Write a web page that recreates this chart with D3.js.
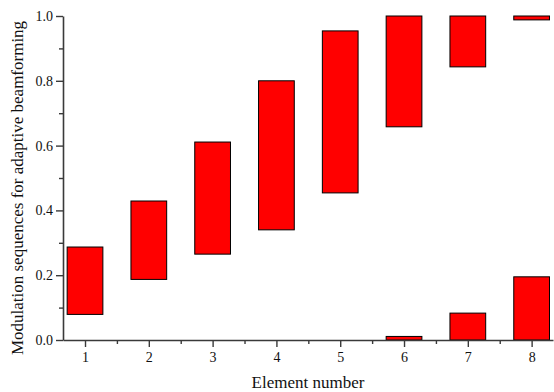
<!DOCTYPE html>
<html>
<head>
<meta charset="utf-8">
<script src="https://cdn.jsdelivr.net/npm/d3@7"></script>
<style>
  body { margin: 0; background: #fff; }
  svg { display: block; }
  svg text { font-family: "Liberation Serif", "Times New Roman", serif; }
</style>
</head>
<body>
<svg id="chart" width="554" height="392"></svg>
<script>
// element index -> [low, high] of each modulation window
const elements = [1, 2, 3, 4, 5, 6, 7, 8];
const lowVals  = [0.079, 0.187, 0.265, 0.340, 0.454, 0.658, 0.843, 0.988];
const highVals = [0.287, 0.429, 0.611, 0.800, 0.954, 1.000, 1.000, 1.000];
// wrapped-around part (values past 1.0 re-enter at 0)
const wrapElements = [6, 7, 8];
const wrapHigh     = [0.011, 0.083, 0.195];

const yTicks = [0, 0.2, 0.4, 0.6, 0.8, 1.0];

const margin = { top: 16, right: 1, bottom: 52, left: 63 };
const W = 554, H = 392;
const svg = d3.select("#chart");

const x = d3.scaleLinear().domain([0.655, 8.335]).range([margin.left, W - margin.right]);
const y = d3.scaleLinear().domain([0, 1]).range([H - margin.bottom, margin.top]);
const halfW = 0.28;

const font = '"Liberation Serif", "Times New Roman", serif';
const axisColor = "#3a3a3a";

const bars = elements.map((e, i) => ({ e, lo: lowVals[i], hi: highVals[i] }))
  .concat(wrapElements.map((e, i) => ({ e, lo: 0, hi: wrapHigh[i] })));

svg.append("g").selectAll("rect")
  .data(bars)
  .enter().append("rect")
    .attr("x", d => x(d.e - halfW))
    .attr("width", d => x(d.e + halfW) - x(d.e - halfW))
    .attr("y", d => y(d.hi))
    .attr("height", d => y(d.lo) - y(d.hi))
    .attr("fill", "#ff0000")
    .attr("stroke", "#000")
    .attr("stroke-width", 1);

function axisStyling(g) {
  g.attr("font-family", null);
  g.select(".domain").attr("stroke", axisColor).attr("stroke-width", 1.6);
  g.selectAll("line").attr("stroke", axisColor).attr("stroke-width", 1.4);
  g.selectAll("text").attr("fill", "#111").style("font-family", font).style("font-size", "14px");
}

// y minor ticks
svg.append("g")
  .attr("transform", `translate(${margin.left},0)`)
  .call(d3.axisLeft(y).tickValues(d3.range(0.1, 1, 0.2)).tickSize(4).tickFormat(""))
  .call(g => g.select(".domain").remove())
  .call(g => g.selectAll("line").attr("stroke", axisColor).attr("stroke-width", 1.4));

// x minor ticks
svg.append("g")
  .attr("transform", `translate(0,${H - margin.bottom})`)
  .call(d3.axisBottom(x).tickValues(d3.range(1.5, 8, 1)).tickSize(4).tickFormat(""))
  .call(g => g.select(".domain").remove())
  .call(g => g.selectAll("line").attr("stroke", axisColor).attr("stroke-width", 1.4));

svg.append("g")
  .attr("transform", `translate(${margin.left},0)`)
  .call(d3.axisLeft(y).tickValues(yTicks).tickFormat(d3.format(".1f")).tickSize(7).tickPadding(3).tickSizeOuter(0))
  .call(axisStyling);

svg.append("g")
  .attr("transform", `translate(0,${H - margin.bottom})`)
  .call(d3.axisBottom(x).tickValues(elements).tickFormat(d3.format("d")).tickSize(7).tickPadding(5).tickSizeOuter(0))
  .call(axisStyling);

svg.append("text")
  .attr("x", (margin.left + W - margin.right) / 2)
  .attr("y", 388)
  .attr("text-anchor", "middle")
  .style("font-family", font)
  .style("font-size", "17px")
  .attr("fill", "#111")
  .text("Element number");

svg.append("text")
  .attr("transform", `translate(23,${(margin.top + H - margin.bottom) / 2 + 10}) rotate(-90)`)
  .attr("text-anchor", "middle")
  .style("font-family", font)
  .style("font-size", "17px")
  .attr("fill", "#111")
  .text("Modulation sequences for adaptive beamforming");
</script>
</body>
</html>
